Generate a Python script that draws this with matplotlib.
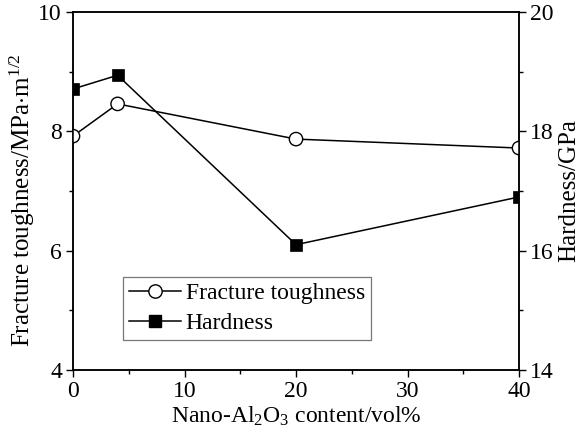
import numpy as np
import matplotlib
matplotlib.use("Agg")
import matplotlib.pyplot as plt
from matplotlib.ticker import MultipleLocator
from matplotlib.lines import Line2D
from matplotlib.patches import Circle, Rectangle
from matplotlib.transforms import ScaledTranslation

plt.rcParams["font.family"] = ["Liberation Serif", "DejaVu Serif"]
plt.rcParams["mathtext.fontset"] = "custom"
plt.rcParams["mathtext.rm"] = "Liberation Serif"
plt.rcParams["mathtext.it"] = "Liberation Serif:italic"

# data
content = [0, 4, 20, 40]
toughness = [7.92, 8.46, 7.87, 7.72]
hardness = [18.71, 18.94, 16.10, 16.90]

fig = plt.figure(figsize=(5.85, 4.44), dpi=100)
ax = fig.add_axes([73 / 585, 1 - 370 / 444, 446 / 585, 358 / 444])
ax2 = ax.twinx()

ax.plot(content, toughness, "-", color="black", lw=1.1, zorder=2)
ax2.plot(content, hardness, "-", color="black", lw=1.1, zorder=2)

# markers as patches so they get cut at the frame, as in the original
r_circ = 4.8 / 72   # inches
s_sq = 8.6 / 72
for x, y in zip(content, toughness):
    off = fig.dpi_scale_trans + ScaledTranslation(x, y, ax.transData)
    ax.add_patch(Circle((0, 0), r_circ, transform=off, facecolor="white",
                        edgecolor="black", lw=1.0, zorder=3))
for x, y in zip(content, hardness):
    off = fig.dpi_scale_trans + ScaledTranslation(x, y, ax2.transData)
    ax2.add_patch(Rectangle((-s_sq / 2, -s_sq / 2), s_sq, s_sq, transform=off,
                            facecolor="black", edgecolor="black", lw=0.5,
                            zorder=3))

ax.set_xlim(0, 40)
ax.set_ylim(4, 10)
ax2.set_ylim(14, 20)
ax.xaxis.set_major_locator(MultipleLocator(10))
ax.xaxis.set_minor_locator(MultipleLocator(5))
ax.yaxis.set_major_locator(MultipleLocator(2))
ax.yaxis.set_minor_locator(MultipleLocator(1))
ax2.yaxis.set_major_locator(MultipleLocator(2))
ax2.yaxis.set_minor_locator(MultipleLocator(1))

fs = 17
for a in (ax, ax2):
    a.tick_params(which="major", direction="out", length=5, width=1,
                  labelsize=fs, pad=3)
    a.tick_params(which="minor", direction="out", length=3, width=1)
    for s in a.spines.values():
        s.set_linewidth(1.1)
ax.tick_params(top=False, which="both")

ax.set_xlabel(r"Nano-Al$_2$O$_3$ content/vol%", fontsize=fs, labelpad=2)
ax.set_ylabel(r"Fracture toughness/MPa$\cdot$m$^{1/2}$", fontsize=18)
ax.yaxis.set_label_coords(-0.08, 0.475)
ax2.set_ylabel("Hardness/GPa", fontsize=18, labelpad=3)

h1 = Line2D([], [], color="black", lw=1.1, marker="o", ms=9.6,
            mfc="white", mec="black", mew=1.0)
h2 = Line2D([], [], color="black", lw=1.1, marker="s", ms=8.6,
            mfc="black", mec="black")
leg = ax.legend(handles=[h1, h2], labels=["Fracture toughness", "Hardness"],
                loc="upper left", bbox_to_anchor=(0.112, 0.26), fontsize=fs,
                frameon=True, fancybox=False, edgecolor="#555555",
                handlelength=2.2, handletextpad=0.2, borderpad=0.25,
                labelspacing=0.35, borderaxespad=0)
leg.get_frame().set_linewidth(0.9)

fig.savefig("out.png", dpi=100)
